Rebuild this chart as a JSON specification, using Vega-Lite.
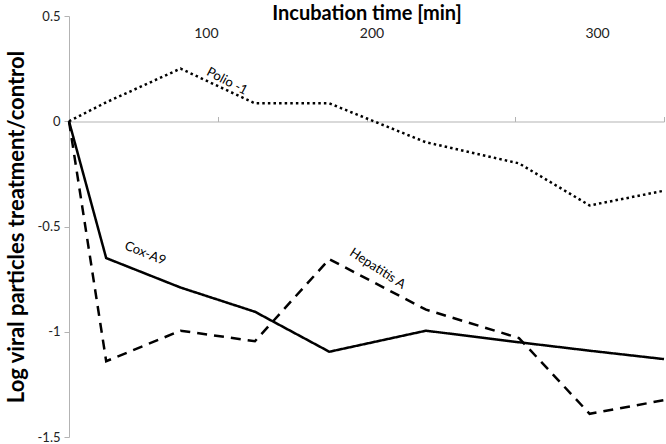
{
  "$schema": "https://vega.github.io/schema/vega-lite/v6.json",
  "width": 595,
  "height": 421,
  "autosize": "none",
  "padding": {"left": 69, "top": 16, "right": 2, "bottom": 7},
  "background": "white",
  "config": {"view": {"stroke": null}, "font": "Lato", "axis": {"grid": false}},
  "datasets": {
    "series": [
      {"series": "Polio -1", "t": 0, "v": 0},
      {"series": "Polio -1", "t": 20, "v": 0.09},
      {"series": "Polio -1", "t": 60, "v": 0.25},
      {"series": "Polio -1", "t": 100, "v": 0.085},
      {"series": "Polio -1", "t": 140, "v": 0.085},
      {"series": "Polio -1", "t": 192, "v": -0.1},
      {"series": "Polio -1", "t": 242, "v": -0.2},
      {"series": "Polio -1", "t": 280, "v": -0.4},
      {"series": "Polio -1", "t": 320, "v": -0.33},
      {"series": "Cox-A9", "t": 0, "v": 0},
      {"series": "Cox-A9", "t": 20, "v": -0.65},
      {"series": "Cox-A9", "t": 60, "v": -0.79},
      {"series": "Cox-A9", "t": 100, "v": -0.905},
      {"series": "Cox-A9", "t": 140, "v": -1.095},
      {"series": "Cox-A9", "t": 192, "v": -0.995},
      {"series": "Cox-A9", "t": 242, "v": -1.05},
      {"series": "Cox-A9", "t": 280, "v": -1.09},
      {"series": "Cox-A9", "t": 320, "v": -1.13},
      {"series": "Hepatitis A", "t": 0, "v": 0},
      {"series": "Hepatitis A", "t": 20, "v": -1.14},
      {"series": "Hepatitis A", "t": 60, "v": -0.995},
      {"series": "Hepatitis A", "t": 100, "v": -1.045},
      {"series": "Hepatitis A", "t": 140, "v": -0.655},
      {"series": "Hepatitis A", "t": 192, "v": -0.895},
      {"series": "Hepatitis A", "t": 242, "v": -1.03},
      {"series": "Hepatitis A", "t": 280, "v": -1.39},
      {"series": "Hepatitis A", "t": 320, "v": -1.325}
    ],
    "labels": [
      {"label": "Polio -1", "t": 85, "v": 0.19},
      {"label": "Cox-A9", "t": 41, "v": -0.627},
      {"label": "Hepatitis A", "t": 166, "v": -0.70}
    ]
  },
  "encoding": {
    "y": {
      "field": "v",
      "type": "quantitative",
      "scale": {"domain": [-1.5, 0.5], "nice": false, "zero": false},
      "axis": {
        "title": "Log viral particles treatment/control",
        "values": [-1.5, -1, -0.5, 0, 0.5],
        "labelExpr": "'' + datum.value",
        "domainColor": "#b3b3b3",
        "tickColor": "#b3b3b3",
        "tickSize": 5,
        "labelFontSize": 13,
        "labelColor": "#222222",
        "labelPadding": 4,
        "titleFontSize": 22,
        "titleFontWeight": "bold",
        "titleColor": "black",
        "titlePadding": 9
      }
    }
  },
  "layer": [
    {
      "data": {"name": "series"},
      "mark": {"type": "line", "color": "black", "strokeWidth": 2.5},
      "encoding": {
        "x": {
          "field": "t",
          "type": "quantitative",
          "scale": {"domain": [0, 320], "nice": false},
          "axis": {
            "orient": "top",
            "values": [73.6, 162.7, 284],
            "labelExpr": "datum.value < 100 ? '100' : datum.value < 200 ? '200' : '300'",
            "domain": false,
            "ticks": false,
            "offset": -26,
            "labelPadding": 2,
            "labelFontSize": 14,
            "labelColor": "#222222",
            "title": "Incubation time [min]",
            "titleFontSize": 20,
            "titleFontWeight": "bold",
            "titleColor": "black",
            "titlePadding": 3
          }
        },
        "strokeDash": {
          "field": "series",
          "type": "nominal",
          "scale": {"domain": ["Polio -1", "Cox-A9", "Hepatitis A"], "range": [[2.5, 3.1], [1, 0], [10, 7]]},
          "legend": null
        }
      }
    },
    {
      "data": {"name": "labels"},
      "transform": [{"filter": "datum.label == 'Polio -1'"}],
      "mark": {"type": "text", "angle": 28, "fontSize": 13, "color": "black"},
      "encoding": {
        "x": {
          "field": "t",
          "type": "quantitative",
          "axis": {
            "orient": "top",
            "offset": -105.5,
            "values": [0, 80, 160, 240, 320],
            "labels": false,
            "title": null,
            "domainColor": "#b3b3b3",
            "tickColor": "#b3b3b3",
            "tickSize": 5
          }
        },
        "text": {"field": "label"}
      }
    },
    {
      "data": {"name": "labels"},
      "transform": [{"filter": "datum.label == 'Cox-A9'"}],
      "mark": {"type": "text", "angle": 22, "fontSize": 13, "color": "black"},
      "encoding": {
        "x": {"field": "t", "type": "quantitative", "axis": null},
        "text": {"field": "label"}
      }
    },
    {
      "data": {"name": "labels"},
      "transform": [{"filter": "datum.label == 'Hepatitis A'"}],
      "mark": {"type": "text", "angle": 33, "fontSize": 13, "color": "black"},
      "encoding": {
        "x": {"field": "t", "type": "quantitative", "axis": null},
        "text": {"field": "label"}
      }
    }
  ],
  "resolve": {"axis": {"x": "independent"}}
}
